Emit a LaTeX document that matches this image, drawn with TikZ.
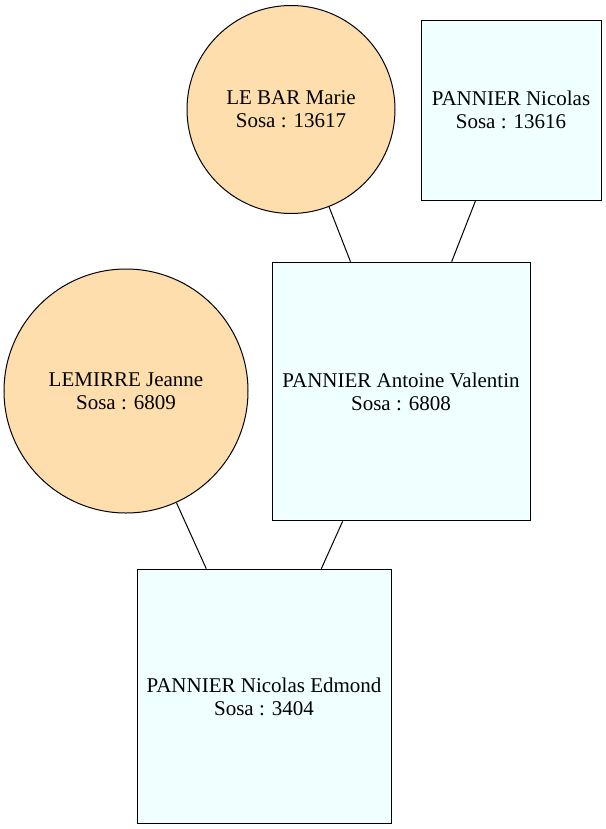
\documentclass[tikz,border=0pt]{standalone}
\usepackage{fontspec}
\setmainfont{Liberation Serif}
\definecolor{navajo}{HTML}{FFDEAD}
\definecolor{azurec}{HTML}{F0FFFF}
\begin{document}
\begin{tikzpicture}[x=0.75pt,y=-0.75pt,
  person/.style={draw=black, line width=0.75pt, inner sep=0pt, align=center,
    font=\fontsize{15.75pt}{17.25pt}\selectfont},
  woman/.style={person, circle, fill=navajo},
  man/.style={person, rectangle, fill=azurec},
  link/.style={draw=black, line width=0.75pt}]
\useasboundingbox (0,0) rectangle (606,829);
\node[woman, minimum size=156pt] (lebar) at (291,109.5) {LE BAR Marie\\Sosa : 13617};
\node[man, minimum width=135pt, minimum height=135pt] (nicolas) at (511,110) {PANNIER Nicolas\\Sosa : 13616};
\node[woman, minimum size=183pt] (lemirre) at (126,391) {LEMIRRE Jeanne\\Sosa : 6809};
\node[man, minimum width=193.5pt, minimum height=194pt] (antoine) at (401,391.5) {PANNIER Antoine Valentin\\Sosa : 6808};
\node[man, minimum width=190.5pt, minimum height=191pt] (edmond) at (264,696.5) {PANNIER Nicolas Edmond\\Sosa : 3404};
\draw[link] (lebar) -- (antoine);
\draw[link] (nicolas) -- (antoine);
\draw[link] (lemirre) -- (edmond);
\draw[link] (antoine) -- (edmond);
\end{tikzpicture}
\end{document}
